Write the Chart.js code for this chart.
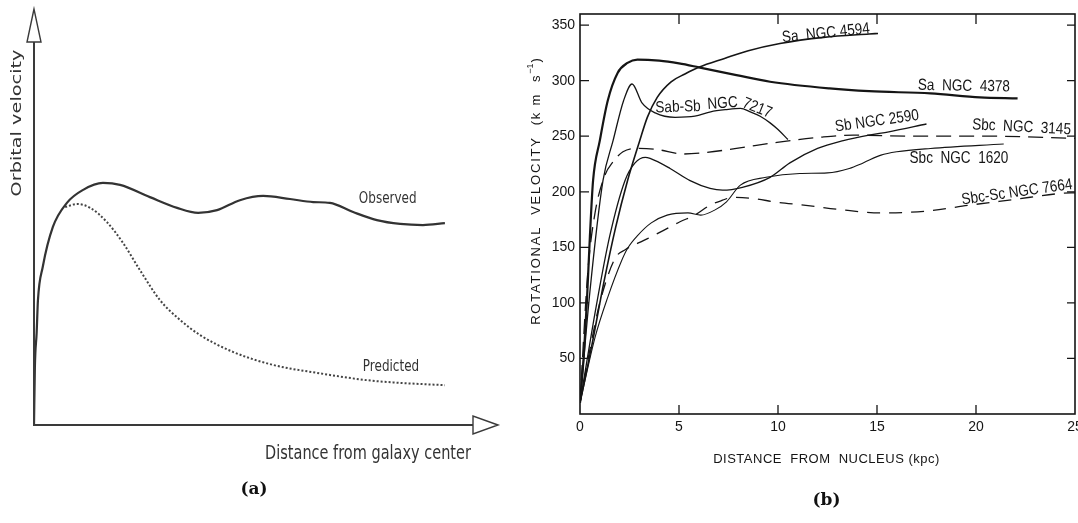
<!DOCTYPE html>
<html>
<head>
<meta charset="utf-8">
<script src="https://cdn.jsdelivr.net/npm/chart.js@4.4.1/dist/chart.umd.min.js"></script>
<style>
  html, body { margin: 0; padding: 0; background: #fff; overflow: hidden; }
  body { width: 1078px; height: 523px; position: relative; }
  canvas { position: absolute; top: 0; }
  #sketch { left: 0; }
  #rotation { left: 520px; }
</style>
</head>
<body>
<canvas id="sketch" width="520" height="523"></canvas>
<canvas id="rotation" width="570" height="523"></canvas>
<script>
// (a) schematic curves, arbitrary units
const observedX = [0, 0.02, 0.06, 0.09, 0.2, 0.43, 0.75, 1.12, 1.57, 1.96, 2.64, 3.26, 3.74, 4.17, 4.69, 5.22, 5.83, 6.36, 6.74, 7.27, 7.81, 8.34, 8.86, 9.36];
const observedY = [0, 1.51, 2.4, 3.26, 4.13, 5.17, 5.8, 6.14, 6.32, 6.27, 5.95, 5.67, 5.54, 5.61, 5.87, 5.98, 5.9, 5.82, 5.8, 5.56, 5.35, 5.25, 5.22, 5.27];
const predictedX = [0.71, 0.98, 1.28, 1.66, 2.03, 2.41, 2.87, 3.33, 3.78, 4.53, 5.44, 6.45, 7.59, 8.34, 9.36];
const predictedY = [5.69, 5.77, 5.67, 5.3, 4.75, 4.05, 3.26, 2.74, 2.35, 1.91, 1.57, 1.36, 1.17, 1.1, 1.04];

// (b) rotation curves: distance (kpc) and velocity (km/s)
const kpc4594 = [0, 0.6, 1.2, 1.8, 2.4, 3.0, 3.4, 3.9, 4.6, 5.3, 6.0, 7.3, 8.5, 10.1, 12.3, 14.6, 15.05];
const vel4594 = [10, 62, 118, 168, 210, 245, 267, 285, 299, 306, 312, 320, 327, 333.5, 339, 342, 342.5];
const kpc4378 = [0, 0.2, 0.35, 0.5, 0.66, 1.0, 1.4, 1.9, 2.4, 2.9, 4.0, 5.0, 6.0, 7.9, 9.6, 12.6, 14.6, 17.7, 20.2, 22.1];
const vel4378 = [10, 55, 102, 160, 210, 246, 282, 307, 316, 319, 318, 315.5, 312, 305, 299, 293, 290.5, 288.5, 285, 284];
const kpc7217 = [0, 0.5, 1.16, 1.67, 2.2, 2.63, 3.13, 3.8, 4.8, 5.8, 6.6, 7.4, 8.1, 8.6, 9.1, 9.6, 10.0, 10.5];
const vel7217 = [10, 110, 210, 246, 282, 297, 280, 271, 267, 268, 272, 274, 275, 272, 268, 262, 256, 247];
const kpc2590 = [0, 0.8, 1.5, 2.27, 2.78, 3.3, 3.54, 4.55, 5.56, 6.57, 7.2, 8.2, 9.6, 10.6, 12.0, 13.3, 14.6, 15.6, 17.5];
const vel2590 = [10, 95, 160, 210, 226, 231, 230, 221, 210, 203, 201.4, 204, 213, 226, 239, 246, 251, 254, 261];
const kpc3145 = [0, 0.4, 0.76, 1.26, 1.67, 2.17, 2.78, 3.9, 5.2, 6.2, 7.9, 9.95, 12.1, 13.8, 17, 21, 25];
const vel3145 = [10, 129, 181, 215, 227, 236, 239, 238, 234, 235, 239, 244.5, 249, 251, 250, 250, 248];
const kpc1620 = [0, 0.76, 1.4, 2.1, 2.4, 2.93, 3.6, 4.4, 5.45, 6.1, 6.8, 7.4, 8.1, 9.4, 11.1, 12.5, 13.6, 14.3, 15.2, 16.0, 17.7, 21.4];
const vel1620 = [10, 69, 105, 138, 149, 161, 172, 179, 181, 179, 183.5, 191, 206, 213, 216.5, 217, 221, 226, 233, 236, 239, 243];
const kpc7664 = [0, 0.5, 1.0, 1.77, 2.3, 3.2, 4.2, 5.05, 5.8, 6.57, 7.2, 7.7, 8.7, 9.95, 11.3, 13.1, 15.2, 17.5, 19.7, 21.9, 24.4, 25];
const vel7664 = [10, 58, 100, 140, 148, 156, 165, 173, 179, 188, 192.4, 195, 194, 190.6, 188, 184, 181, 182.6, 188, 193, 198.7, 199];

const distanceTicks = [0, 5, 10, 15, 20, 25];
const velocityTicks = [50, 100, 150, 200, 250, 300, 350];

const pts = (xs, ys) => xs.map((x, i) => ({ x: x, y: ys[i] }));

// squash factor of the sketch lettering
const STRETCH = 1.33;

function stretchedText(ctx, text, x, y, sx, sy, rot) {
  ctx.save();
  ctx.translate(x, y);
  if (rot) ctx.rotate(rot);
  ctx.scale(sx, sy);
  ctx.fillText(text, 0, 0);
  ctx.restore();
}

function hollowArrow(ctx, tip, b1, b2) {
  ctx.beginPath();
  ctx.moveTo(tip[0], tip[1]);
  ctx.lineTo(b1[0], b1[1]);
  ctx.lineTo(b2[0], b2[1]);
  ctx.closePath();
  ctx.fillStyle = '#fff';
  ctx.fill();
  ctx.stroke();
}

const sketchLabels = [
  { text: 'Observed', x: 7.4, y: 5.8 },
  { text: 'Predicted', x: 7.49, y: 1.41 }
];

const sketchDecor = {
  id: 'sketchDecor',
  afterDatasetsDraw(chart) {
    const { ctx, chartArea: a, scales: { x, y } } = chart;
    const x0 = x.getPixelForValue(0), y0 = y.getPixelForValue(0);
    ctx.save();
    ctx.strokeStyle = '#3a3a3a';
    ctx.lineWidth = 2;
    ctx.beginPath();
    ctx.moveTo(x0, y0 + 1);
    ctx.lineTo(x0, a.top);
    ctx.moveTo(x0 - 1, y0);
    ctx.lineTo(a.right, y0);
    ctx.stroke();
    ctx.lineWidth = 1.4;
    hollowArrow(ctx, [x0, a.top - 33], [x0 - 7, a.top], [x0 + 7, a.top]);
    hollowArrow(ctx, [a.right + 25, y0], [a.right, y0 - 9], [a.right, y0 + 9]);

    ctx.fillStyle = '#333';
    ctx.font = '14.5px "DejaVu Sans"';
    ctx.textAlign = 'center';
    ctx.textBaseline = 'middle';
    stretchedText(ctx, 'Orbital velocity', 17, a.top + 81, STRETCH, 1, -Math.PI / 2);
    ctx.textBaseline = 'alphabetic';
    stretchedText(ctx, 'Distance from galaxy center', 368, y0 + 34, 1, STRETCH, 0);

    ctx.font = '12px "DejaVu Sans"';
    ctx.textAlign = 'left';
    sketchLabels.forEach(l => {
      stretchedText(ctx, l.text, x.getPixelForValue(l.x), y.getPixelForValue(l.y), 1, STRETCH, 0);
    });

    ctx.fillStyle = '#111';
    ctx.font = 'bold 17px "DejaVu Serif"';
    ctx.textAlign = 'center';
    ctx.textBaseline = 'middle';
    ctx.fillText('(a)', 254, 490);
    ctx.restore();
  }
};

new Chart(document.getElementById('sketch'), {
  type: 'line',
  data: {
    datasets: [
      {
        label: 'Observed',
        data: pts(observedX, observedY),
        borderColor: '#333',
        borderWidth: 2.2,
        pointRadius: 0,
        cubicInterpolationMode: 'monotone'
      },
      {
        label: 'Predicted',
        data: pts(predictedX, predictedY),
        borderColor: '#444',
        borderWidth: 2,
        borderDash: [2, 2],
        pointRadius: 0,
        cubicInterpolationMode: 'monotone'
      }
    ]
  },
  options: {
    responsive: false,
    animation: false,
    devicePixelRatio: 1,
    layout: { padding: { left: 34, right: 47, top: 42, bottom: 98 } },
    scales: {
      x: { type: 'linear', min: 0, max: 10, display: false },
      y: { type: 'linear', min: 0, max: 10, display: false }
    },
    plugins: { legend: { display: false }, tooltip: { enabled: false } }
  },
  plugins: [sketchDecor]
});

// curve names written along the lines
const curveLabels = [
  { text: 'Sa  NGC 4594', x: 12.42, y: 342.6, angle: -6 },
  { text: 'Sa  NGC  4378', x: 19.39, y: 295, angle: 1 },
  { text: 'Sab-Sb', x: 4.95, y: 276.1, angle: -2 },
  { text: 'NGC', x: 7.2, y: 279.5, angle: -4 },
  { text: '7217', x: 8.95, y: 275.2, angle: 22 },
  { text: 'Sb NGC 2590', x: 15.0, y: 263.5, angle: -8 },
  { text: 'Sbc  NGC  3145', x: 22.3, y: 258, angle: 3 },
  { text: 'Sbc  NGC  1620', x: 19.14, y: 230.2, angle: 0 },
  { text: 'Sbc-Sc NGC 7664', x: 22.07, y: 199.6, angle: -8 }
];

const rotationDecor = {
  id: 'rotationDecor',
  afterDatasetsDraw(chart) {
    const { ctx, chartArea: a, scales: { x, y } } = chart;
    ctx.save();
    ctx.strokeStyle = '#151515';
    ctx.lineWidth = 1.6;
    ctx.strokeRect(a.left, a.top, a.right - a.left, a.bottom - a.top);

    // inward tick marks on all four sides
    ctx.lineWidth = 1.3;
    ctx.beginPath();
    x.ticks.forEach(t => {
      if (t.value <= x.min || t.value >= x.max) return;
      const px = x.getPixelForValue(t.value);
      ctx.moveTo(px, a.bottom); ctx.lineTo(px, a.bottom - 9);
      ctx.moveTo(px, a.top); ctx.lineTo(px, a.top + 10);
    });
    y.ticks.forEach(t => {
      if (t.value <= y.min || t.value >= y.max) return;
      const py = y.getPixelForValue(t.value);
      ctx.moveTo(a.left, py); ctx.lineTo(a.left + 9, py);
      ctx.moveTo(a.right, py); ctx.lineTo(a.right - 8, py);
    });
    ctx.stroke();

    ctx.fillStyle = '#151515';
    ctx.font = '14px "Liberation Sans"';
    ctx.textAlign = 'center';
    ctx.textBaseline = 'middle';
    curveLabels.forEach(l => {
      ctx.save();
      ctx.translate(x.getPixelForValue(l.x), y.getPixelForValue(l.y));
      ctx.rotate(l.angle * Math.PI / 180);
      ctx.scale(0.97, 1.15);
      ctx.fillText(l.text, 0, 0);
      ctx.restore();
    });

    // axis titles
    ctx.letterSpacing = '0.5px';
    ctx.font = '13px "Liberation Sans"';
    ctx.fillText('DISTANCE  FROM  NUCLEUS (kpc)', (a.left + a.right) / 2 - 1, a.bottom + 45);

    ctx.save();
    ctx.translate(a.left - 44, (a.top + a.bottom) / 2 - 23);
    ctx.rotate(-Math.PI / 2);
    ctx.letterSpacing = '1.8px';
    const main = 'ROTATIONAL  VELOCITY  (k m  s';
    const wMain = ctx.measureText(main).width;
    ctx.font = '9px "Liberation Sans"';
    ctx.letterSpacing = '0px';
    const wSup = ctx.measureText('−1').width;
    ctx.font = '13px "Liberation Sans"';
    const wEnd = ctx.measureText(')').width;
    let cx = -(wMain + wSup + wEnd + 2) / 2;
    ctx.textAlign = 'left';
    ctx.letterSpacing = '1.8px';
    ctx.fillText(main, cx, 0);
    cx += wMain;
    ctx.letterSpacing = '0px';
    ctx.font = '9px "Liberation Sans"';
    ctx.fillText('−1', cx, -5);
    cx += wSup + 1;
    ctx.font = '13px "Liberation Sans"';
    ctx.fillText(')', cx, 0);
    ctx.restore();

    ctx.letterSpacing = '0px';
    ctx.fillStyle = '#111';
    ctx.font = 'bold 17px "DejaVu Serif"';
    ctx.fillText('(b)', (a.left + a.right) / 2 - 1, 501);
    ctx.restore();
  }
};

const curves = [
  { label: 'NGC 4594', xs: kpc4594, ys: vel4594, width: 1.6, dash: [] },
  { label: 'NGC 4378', xs: kpc4378, ys: vel4378, width: 2.2, dash: [] },
  { label: 'NGC 7217', xs: kpc7217, ys: vel7217, width: 1.3, dash: [] },
  { label: 'NGC 2590', xs: kpc2590, ys: vel2590, width: 1.3, dash: [] },
  { label: 'NGC 3145', xs: kpc3145, ys: vel3145, width: 1.3, dash: [15, 8] },
  { label: 'NGC 1620', xs: kpc1620, ys: vel1620, width: 1.1, dash: [] },
  { label: 'NGC 7664', xs: kpc7664, ys: vel7664, width: 1.3, dash: [13, 9] }
];

new Chart(document.getElementById('rotation'), {
  type: 'line',
  data: {
    datasets: curves.map(c => ({
      label: c.label,
      data: pts(c.xs, c.ys),
      borderColor: '#151515',
      borderWidth: c.width,
      borderDash: c.dash,
      pointRadius: 0,
      cubicInterpolationMode: 'monotone'
    }))
  },
  options: {
    responsive: false,
    animation: false,
    devicePixelRatio: 1,
    layout: { padding: { left: 0, right: 15, top: 14, bottom: 79 } },
    scales: {
      x: {
        type: 'linear', min: 0, max: 25,
        afterBuildTicks: s => { s.ticks = distanceTicks.map(v => ({ value: v })); },
        afterFit: s => { s.height = 30; },
        grid: { display: false, drawTicks: false },
        border: { display: false },
        ticks: { padding: 5, color: '#151515', font: { family: 'Liberation Sans', size: 14 }, maxRotation: 0 }
      },
      y: {
        type: 'linear', min: 0, max: 360,
        afterBuildTicks: s => { s.ticks = velocityTicks.map(v => ({ value: v })); },
        afterFit: s => { s.width = 60; },
        grid: { display: false, drawTicks: false },
        border: { display: false },
        ticks: { padding: 5, color: '#151515', font: { family: 'Liberation Sans', size: 14 } }
      }
    },
    plugins: { legend: { display: false }, tooltip: { enabled: false } }
  },
  plugins: [rotationDecor]
});
</script>
</body>
</html>
